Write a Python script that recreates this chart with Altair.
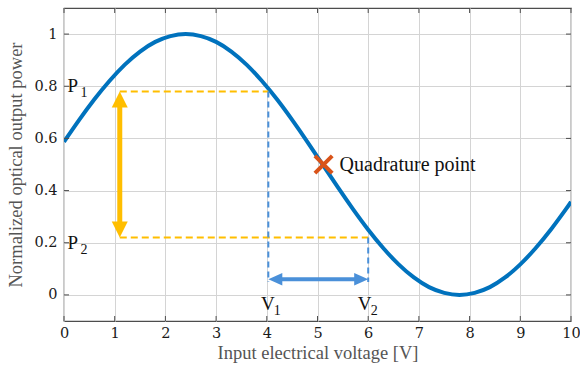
import altair as alt
import pandas as pd

# Transfer curve of the modulator: normalized optical power vs. drive voltage
voltage = [0.0, 0.3, 0.6, 0.9, 1.2, 1.5, 1.8, 2.1, 2.4, 2.7, 3.0, 3.3, 3.6, 3.9,
           4.2, 4.5, 4.8, 5.1, 5.4, 5.7, 6.0, 6.3, 6.6, 6.9, 7.2, 7.5, 7.8, 8.1,
           8.4, 8.7, 9.0, 9.3, 9.6, 9.9, 10.0]
power = [0.587, 0.671, 0.750, 0.821, 0.883, 0.933, 0.970, 0.992, 1.000, 0.992,
         0.970, 0.933, 0.883, 0.821, 0.750, 0.671, 0.587, 0.500, 0.413, 0.329,
         0.250, 0.179, 0.117, 0.067, 0.030, 0.008, 0.000, 0.008, 0.030, 0.067,
         0.117, 0.179, 0.250, 0.329, 0.357]

x_ticks = [0, 1, 2, 3, 4, 5, 6, 7, 8, 9, 10]
y_ticks = [0, 0.2, 0.4, 0.6, 0.8, 1.0]

# Operating points
p_levels = [0.78, 0.22]          # P1, P2
v_levels = [4.03, 6.0]           # V1, V2
p_arrow_x = 1.1                  # position of the vertical power-swing arrow
v_arrow_y = 0.06                 # height of the horizontal voltage-swing arrow
v_floor = 0.05                   # lower end of the dashed voltage drop lines
quad_v, quad_p = 5.12, 0.50      # quadrature point

p_labels = ["P", "P"]
p_subs = ["1", "2"]
p_label_y = [0.80, 0.198]
v_labels = ["V", "V"]
v_subs = ["1", "2"]
v_label_x = [4.02, 5.93]
v_label_y = -0.034
quad_text = "Quadrature point"

W, H = 507, 313
SERIF = "Liberation Serif"
TICKFONT = "DejaVu Serif"
FRAME = "#4d4d4d"
BLUE = "#0072BD"
YELLOW = "#FFBE00"
LBLUE = "#4A90D9"
RED = "#D95319"

xs = alt.Scale(domain=[0, 10], nice=False, zero=False)
ys = alt.Scale(domain=[-0.1, 1.1], nice=False, zero=False)

x_axis = alt.Axis(values=x_ticks, format="d", grid=True, gridColor="#d4d4d4",
                  gridWidth=1, ticks=False, domain=False, labelFont=TICKFONT,
                  labelFontSize=14.5, labelColor="#1a1a1a", labelPadding=5,
                  labelFlush=False,
                  title="Input electrical voltage [V]", titleFont=SERIF,
                  titleFontSize=18.5, titleFontWeight="normal", titleColor="#555555",
                  titlePadding=4)
y_axis = alt.Axis(values=y_ticks, format="~g", grid=True, gridColor="#d4d4d4",
                  gridWidth=1, ticks=False, domain=False, labelFont=TICKFONT,
                  labelFontSize=14.5, labelColor="#1a1a1a", labelPadding=7,
                  labelFlush=False,
                  title="Normalized optical output power", titleFont=SERIF,
                  titleFontSize=18.5, titleFontWeight="normal", titleColor="#555555",
                  titlePadding=8)


def X(field):
    return alt.X(field, type="quantitative", scale=xs, axis=x_axis)


def Y(field):
    return alt.Y(field, type="quantitative", scale=ys, axis=y_axis)


curve_df = pd.DataFrame({"v": voltage, "p": power})

curve = alt.Chart(curve_df).mark_line(
    color=BLUE, strokeWidth=4, interpolate="natural", clip=True
).encode(x=X("v"), y=Y("p"), order="v:Q")

# inward ticks on all four sides of the frame
xt_df = pd.DataFrame({"t": x_ticks})
yt_df = pd.DataFrame({"t": y_ticks})
tick_style = dict(color=FRAME, strokeWidth=1)
ticks_bottom = alt.Chart(xt_df).mark_rule(**tick_style).encode(
    x=X("t"), y=alt.value(H), y2=alt.value(H - 5))
ticks_top = alt.Chart(xt_df).mark_rule(**tick_style).encode(
    x=X("t"), y=alt.value(0), y2=alt.value(5))
ticks_left = alt.Chart(yt_df).mark_rule(**tick_style).encode(
    y=Y("t"), x=alt.value(0), x2=alt.value(5))
ticks_right = alt.Chart(yt_df).mark_rule(**tick_style).encode(
    y=Y("t"), x=alt.value(W), x2=alt.value(W - 5))

# dashed guides: horizontal power levels and vertical voltage drops
h_df = pd.DataFrame({"x0": [p_arrow_x, p_arrow_x], "x1": v_levels, "y": p_levels})
h_dash = alt.Chart(h_df).mark_rule(color=YELLOW, strokeWidth=2, strokeDash=[7, 4]).encode(
    x=X("x0"), x2="x1", y=Y("y"))
v_df = pd.DataFrame({"x": v_levels, "y0": p_levels, "y1": [v_floor, v_floor]})
v_dash = alt.Chart(v_df).mark_rule(color=LBLUE, strokeWidth=2, strokeDash=[6, 4]).encode(
    x=X("x"), y=Y("y0"), y2="y1")

# vertical double arrow between P1 and P2
pa_df = pd.DataFrame({"x": [p_arrow_x], "y0": [p_levels[0]], "y1": [p_levels[1]]})
p_shaft = alt.Chart(pa_df).mark_rule(color=YELLOW, strokeWidth=5, yOffset=10, y2Offset=-10).encode(
    x=X("x"), y=Y("y0"), y2="y1")
p_head_up = alt.Chart(pa_df).mark_point(
    shape="M0,-1L-1,1L1,1Z", size=256, filled=True, opacity=1, color=YELLOW, yOffset=8
).encode(x=X("x"), y=Y("y0"))
p_head_down = alt.Chart(pa_df).mark_point(
    shape="M0,1L-1,-1L1,-1Z", size=256, filled=True, opacity=1, color=YELLOW, yOffset=-8
).encode(x=X("x"), y=Y("y1"))

# horizontal double arrow between V1 and V2
va_df = pd.DataFrame({"x0": [v_levels[0]], "x1": [v_levels[1]], "y": [v_arrow_y]})
v_shaft = alt.Chart(va_df).mark_rule(color=LBLUE, strokeWidth=4, xOffset=10, x2Offset=-10).encode(
    x=X("x0"), x2="x1", y=Y("y"))
v_head_left = alt.Chart(va_df).mark_point(
    shape="M-1,0L1,-0.9L1,0.9Z", size=196, filled=True, opacity=1, color=LBLUE, xOffset=7
).encode(x=X("x0"), y=Y("y"))
v_head_right = alt.Chart(va_df).mark_point(
    shape="M1,0L-1,-0.9L-1,0.9Z", size=196, filled=True, opacity=1, color=LBLUE, xOffset=-7
).encode(x=X("x1"), y=Y("y"))

# quadrature point marker and its label
q_df = pd.DataFrame({"x": [quad_v], "y": [quad_p], "t": [quad_text]})
q_mark = alt.Chart(q_df).mark_point(
    shape="M-1,-1L1,1M1,-1L-1,1", size=300, strokeWidth=4, color=RED, opacity=1,
    strokeCap="butt"
).encode(x=X("x"), y=Y("y"))
q_text = alt.Chart(q_df).mark_text(
    font=SERIF, fontSize=20, align="left", baseline="middle", dx=16, color="#111111"
).encode(x=X("x"), y=Y("y"), text="t")

# P and V labels with subscripts
pl_df = pd.DataFrame({"x": [0.07, 0.07], "y": p_label_y, "t": p_labels, "s": p_subs})
p_text = alt.Chart(pl_df).mark_text(
    font=SERIF, fontSize=19, align="left", baseline="middle", color="#111111"
).encode(x=X("x"), y=Y("y"), text="t")
p_sub = alt.Chart(pl_df).mark_text(
    font=SERIF, fontSize=14, align="left", baseline="middle", dx=13, dy=7, color="#111111"
).encode(x=X("x"), y=Y("y"), text="s")

vl_df = pd.DataFrame({"x": v_label_x, "y": [v_label_y, v_label_y], "t": v_labels, "s": v_subs})
v_text = alt.Chart(vl_df).mark_text(
    font=SERIF, fontSize=19, align="center", baseline="middle", color="#111111"
).encode(x=X("x"), y=Y("y"), text="t")
v_sub = alt.Chart(vl_df).mark_text(
    font=SERIF, fontSize=14, align="left", baseline="middle", dx=6, dy=7, color="#111111"
).encode(x=X("x"), y=Y("y"), text="s")

chart = alt.layer(
    curve, ticks_bottom, ticks_top, ticks_left, ticks_right,
    h_dash, v_dash, p_shaft, p_head_up, p_head_down,
    v_shaft, v_head_left, v_head_right,
    q_mark, q_text, p_text, p_sub, v_text, v_sub,
).properties(
    width=W, height=H,
    autosize=alt.AutoSizeParams(type="none"),
    padding={"left": 64, "top": 8, "right": 9, "bottom": 45},
    background="white",
).configure_view(
    stroke=FRAME, strokeWidth=1.2
).configure_axis(
    labelFont=TICKFONT, titleFont=SERIF
)

chart.save("out.html", embed_options={"renderer": "svg", "actions": False})
